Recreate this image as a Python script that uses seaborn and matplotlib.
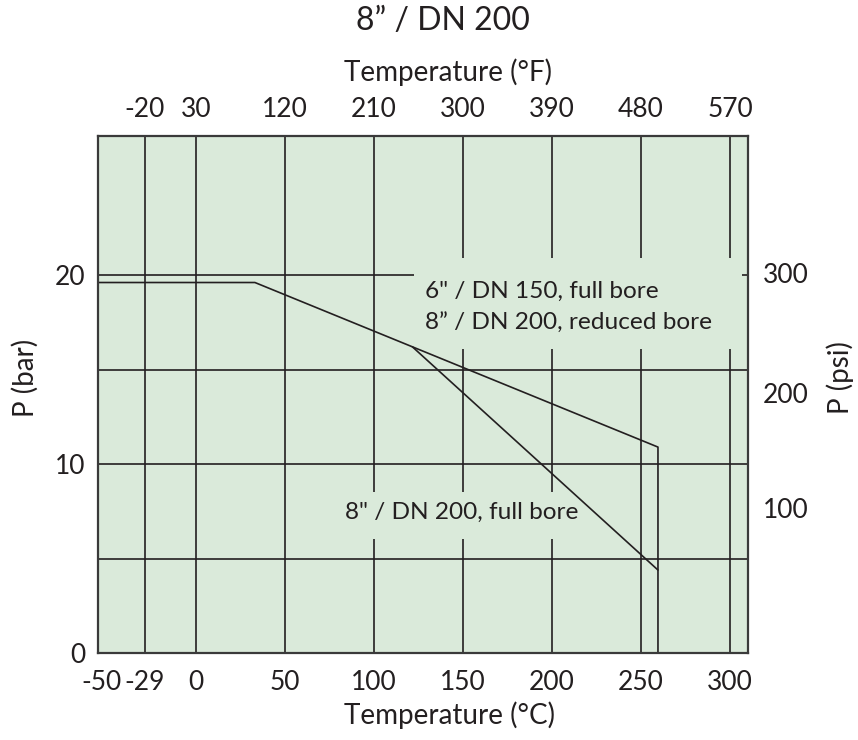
import matplotlib
matplotlib.use("Agg")
import matplotlib.pyplot as plt
import seaborn as sns
from matplotlib.patches import Rectangle

sns.set_theme(style="white")
plt.rcParams['font.family'] = ['Lato', 'DejaVu Sans']
plt.rcParams['axes.unicode_minus'] = False

# axis ticks / labels
temp_c_pos = [-53, -29, 0, 50, 100, 150, 200, 250, 300]
temp_c_labels = ['-50', '-29', '0', '50', '100', '150', '200', '250', '300']
temp_f_pos = [-29, 0, 50, 100, 150, 200, 250, 300]
temp_f_labels = ['-20', '30', '120', '210', '300', '390', '480', '570']
grid_temp = [-29, 0, 50, 100, 150, 200, 250, 300]
grid_bar = [5, 10, 15, 20]
bar_ticks = [0, 10, 20]
psi_pos_bar = [7.67, 13.75, 20.09]
psi_labels = ['100', '200', '300']

# pressure / temperature curves
upper_t = [-55, 33, 121.5, 259.5, 259.5]
upper_p = [19.6, 19.6, 16.2, 10.9, 0]
full_t = [121.5, 259.5]
full_p = [16.2, 4.4]

bg = '#daeada'
ink = '#231f20'

fig = plt.figure(figsize=(8.58, 7.4), dpi=100)
ax = fig.add_axes([0.1146, 0.1172, 0.757, 0.6994])
ax.set_facecolor(bg)
ax.set_xlim(-55, 310)
ax.set_ylim(0, 27.36)

for t in grid_temp:
    ax.axvline(t, color=ink, lw=1.2, zorder=1)
for p in grid_bar:
    ax.axhline(p, color=ink, lw=1.2, zorder=1)

# label backgrounds that cut the grid
ax.add_patch(Rectangle((122.6, 16.1), 184.2, 4.8, facecolor=bg, edgecolor='none', zorder=2))
ax.add_patch(Rectangle((80.3, 6.05), 135, 2.5, facecolor=bg, edgecolor='none', zorder=2))

sns.lineplot(x=upper_t, y=upper_p, sort=False, estimator=None, color=ink, lw=1.2, ax=ax, zorder=4)
sns.lineplot(x=full_t, y=full_p, sort=False, estimator=None, color=ink, lw=1.2, ax=ax, zorder=4)

ax.text(128.8, 19.12, '6" / DN 150, full bore', fontsize=17.6, color=ink, va='center', ha='left', zorder=3)
ax.text(128.8, 17.46, '8\u201d / DN 200, reduced bore', fontsize=17.6, color=ink, va='center', ha='left', zorder=3)
ax.text(83.7, 7.47, '8" / DN 200, full bore', fontsize=17.6, color=ink, va='center', ha='left', zorder=3)

ax.set_xticks(temp_c_pos, temp_c_labels)
ax.set_yticks(bar_ticks)
ax.tick_params(length=0, labelsize=19, colors=ink)
ax.tick_params(axis='x', pad=12)
ax.tick_params(axis='y', pad=9)
ax.grid(False)
for s in ax.spines.values():
    s.set_color('#3a3a3a')
    s.set_linewidth(1.6)
    s.set_zorder(5)

axt = ax.twiny()
axt.set_xlim(ax.get_xlim())
axt.set_xticks(temp_f_pos, temp_f_labels)
axt.tick_params(length=0, labelsize=19, colors=ink, pad=10)
axr = ax.twinx()
axr.set_ylim(ax.get_ylim())
axr.set_yticks(psi_pos_bar, psi_labels)
axr.tick_params(length=0, labelsize=19, colors=ink, pad=11)
for a in (axt, axr):
    a.grid(False)
    for s in a.spines.values():
        s.set_visible(False)

fig.text(443 / 858, 1 - 21 / 740, '8\u201d / DN 200', fontsize=23, color=ink, ha='center', va='center')
fig.text(448 / 858, 1 - 72 / 740, 'Temperature (°F)', fontsize=20, color=ink, ha='center', va='center')
fig.text(450 / 858, 1 - 715 / 740, 'Temperature (°C)', fontsize=20, color=ink, ha='center', va='center')
fig.text(25 / 858, 1 - 378 / 740, 'P (bar)', fontsize=20, color=ink, ha='center', va='center', rotation=90)
fig.text(840 / 858, 1 - 378 / 740, 'P (psi)', fontsize=20, color=ink, ha='center', va='center', rotation=90)

plt.savefig('out.png', dpi=100, facecolor='white')
plt.close()
